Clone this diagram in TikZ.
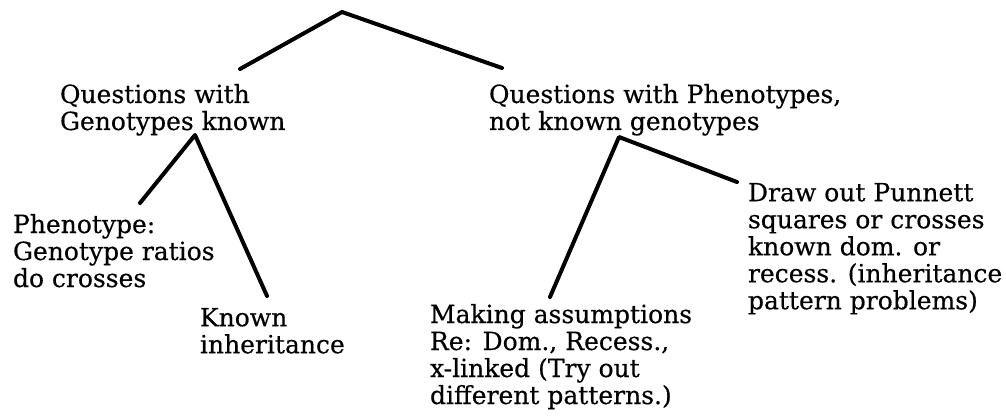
\documentclass[tikz,border=0pt]{standalone}
\usepackage{fontspec}
\setmainfont{DejaVu Serif}[FakeBold=0.4]
\begin{document}
\begin{tikzpicture}[x=1pt,y=-1pt, line width=4pt, line cap=round, line join=round,
  every node/.style={inner sep=0pt, anchor=north west, align=left,
    font=\fontsize{25}{27}\selectfont}]
  \useasboundingbox (0,0) rectangle (1006,416);
  \coordinate (Top) at (342,12);
  \coordinate (G)   at (195,135);
  \coordinate (P)   at (619,137);
  \coordinate (G1)  at (240,69);
  \coordinate (P1)  at (502,68);
  \coordinate (G2)  at (140,203);
  \coordinate (G3)  at (267,296);
  \coordinate (P2)  at (550,297);
  \coordinate (P3)  at (737,182);
  % branches
  \draw (G1) -- (Top) -- (P1);
  \draw (G2) -- (G) -- (G3);
  \draw (P2) -- (P) -- (P3);
  % question types
  \node (QG) at (58,82)  {Questions with\\Genotypes known};
  \node (QP) at (487,82) {Questions with Phenotypes,\\not known genotypes};
  % ways to solve them
  \node (Ratio)   at (11,212)  {Phenotype:\\Genotype ratios\\do crosses};
  \node (Inherit) at (198,306) {Known\\inheritance};
  \node (Assume)  at (428,302) {Making assumptions\\Re: Dom., Recess.,\\x-linked (Try out\\different patterns.)};
  \node (Punnett) at (746,181) {Draw out Punnett\\squares or crosses\\known dom. or\\recess. (inheritance\\pattern problems)};
\end{tikzpicture}
\end{document}
